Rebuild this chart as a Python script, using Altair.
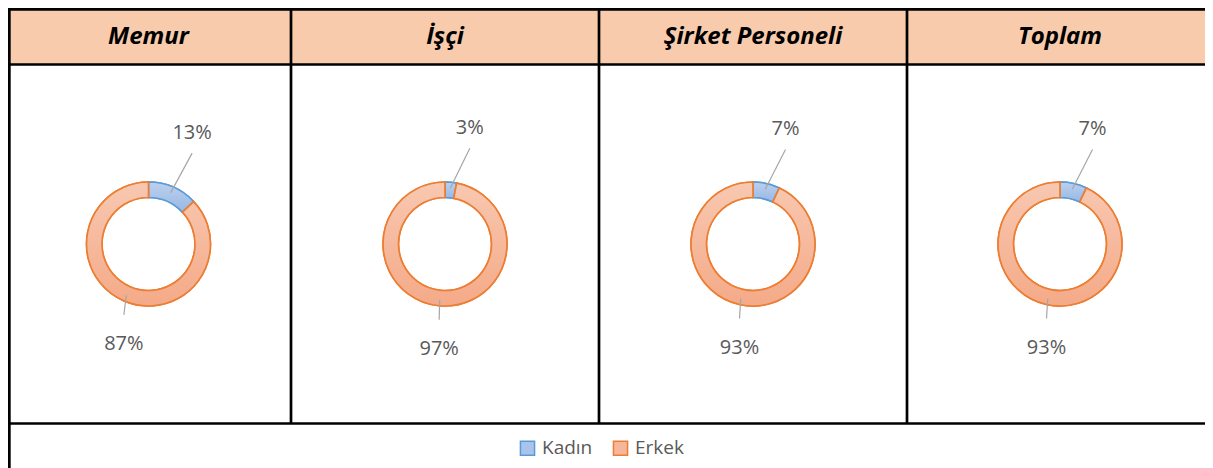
import math
import altair as alt
import pandas as pd

# ---------------- data ----------------
panels = ["Memur", "İşçi", "Şirket Personeli", "Toplam"]
categories = ["Kadın", "Erkek"]
kadin_pct = [13, 3, 7, 7]
erkek_pct = [87, 97, 93, 93]

# ---------------- layout (page pixels) ----------------
PAGE_W, PAGE_H, M = 1213, 468, 8
W, H = PAGE_W - 2 * M, PAGE_H - M
LW = 2.7
col_edges = [M + LW / 2, 291, 599, 907, 1215]
top_y, head_y, body_y = M + LW / 2, 64.5, 423.5
donut_cy = 244
r_out, r_in = 62, 46.5
label_off = {"Kadın": (19, -55), "Erkek": (0, 42)}
leader_end_dy = {"Kadın": 21, "Erkek": -28}
leader_r = 56
fill_cols = {"Kadın": "#A9C4EB", "Erkek": "#F6B699"}
stroke_cols = {"Kadın": "#5B9BD5", "Erkek": "#ED7D31"}
grad = {
    "Kadın": ("#BCD0EE", "#98B8E4"),
    "Erkek": ("#F8C8B1", "#F4AA88"),
}
TEXT = "#595959"

centers = [(6 + 291) / 2, (291 + 599) / 2, (599 + 907) / 2, (907 + 1213) / 2]

rows = []
for i, p in enumerate(panels):
    cx = centers[i]
    vals = [kadin_pct[i], erkek_pct[i]]
    total = sum(vals)
    cum = 0
    for c, v in zip(categories, vals):
        t0 = cum / total
        cum += v
        t1 = cum / total
        a = math.pi * (t0 + t1)
        ox = cx + r_out * math.sin(a)
        oy = donut_cy - r_out * math.cos(a)
        lx = ox + label_off[c][0]
        ly = oy + label_off[c][1]
        rows.append(dict(
            panel=p, category=c, value=v, label=f"{v}%",
            cx=cx, cy=donut_cy, t0=t0, t1=t1,
            lx=lx, ly=ly + 7,
            sx=cx + leader_r * math.sin(a), sy=donut_cy - leader_r * math.cos(a),
            ex=lx, ey=ly + leader_end_dy[c],
        ))
df = pd.DataFrame(rows)

head_df = pd.DataFrame({"panel": panels, "x": centers, "y": [43.5] * len(panels)})
hdr_rect = pd.DataFrame([{"x": M, "x2": PAGE_W, "y": M, "y2": head_y}])
lines = [
    (M, top_y, PAGE_W, top_y),
    (M, head_y, PAGE_W, head_y),
    (M, body_y, PAGE_W, body_y),
    (col_edges[0], M, col_edges[0], PAGE_H + 2),
]
for e in col_edges[1:4]:
    lines.append((e, M, e, body_y))
lines_df = pd.DataFrame(lines, columns=["x", "y", "x2", "y2"])

# scales map page pixels onto the plot area (page has an 8px margin)
xs = alt.Scale(domain=[M, M + W], range=[0, W], nice=False, zero=False)
ys = alt.Scale(domain=[M, M + H], range=[0, H], nice=False, zero=False)
ts = alt.Scale(domain=[0, 1], range=[0, 2 * math.pi])

X = lambda f: alt.X(f, scale=xs, axis=None)
Y = lambda f: alt.Y(f, scale=ys, axis=None)

header_bg = alt.Chart(hdr_rect).mark_rect(fill="#F8CBAD").encode(
    x=X("x:Q"), x2="x2:Q", y=Y("y:Q"), y2="y2:Q"
)
grid = alt.Chart(lines_df).mark_rule(color="#000000", strokeWidth=LW).encode(
    x=X("x:Q"), x2="x2:Q", y=Y("y:Q"), y2="y2:Q"
)
header_txt = alt.Chart(head_df).mark_text(
    font="Open Sans", fontSize=24, fontWeight="bold", fontStyle="italic",
    color="#000000", align="center", baseline="alphabetic"
).encode(x=X("x:Q"), y=Y("y:Q"), text="panel:N")

legend = alt.Legend(
    title=None, orient="none", legendX=520 - M - 2, legendY=440 - M - 1.5, direction="horizontal",
    symbolType="square", symbolSize=200, symbolStrokeWidth=1.5,
    labelFont="Open Sans", labelFontSize=19, labelColor=TEXT, labelOffset=5,
    columnPadding=17, padding=0, symbolOpacity=1,
)
base_arc = alt.Chart(df).mark_arc(radius=r_out, radius2=r_in, strokeWidth=1.5).encode(
    x=X("cx:Q"), y=Y("cy:Q"),
    theta=alt.Theta("t0:Q", scale=ts, stack=False), theta2="t1:Q",
    fill=alt.Fill("category:N", scale=alt.Scale(domain=categories, range=[fill_cols[c] for c in categories]), legend=legend),
    stroke=alt.Stroke("category:N", scale=alt.Scale(domain=categories, range=[stroke_cols[c] for c in categories]), legend=legend),
)

grad_layers = []
for c in categories:
    g = alt.LinearGradient(
        gradient="linear", x1=0, y1=0, x2=0, y2=1,
        stops=[alt.GradientStop(offset=0, color=grad[c][0]), alt.GradientStop(offset=1, color=grad[c][1])],
    )
    grad_layers.append(
        alt.Chart(df).transform_filter(alt.datum.category == c).mark_arc(
            radius=r_out, radius2=r_in, fill=g, stroke=stroke_cols[c], strokeWidth=1.7
        ).encode(
            x=X("cx:Q"), y=Y("cy:Q"),
            theta=alt.Theta("t0:Q", scale=ts, stack=False), theta2="t1:Q",
        )
    )

leaders = alt.Chart(df).mark_rule(color="#A6A6A6", strokeWidth=1.2).encode(
    x=X("sx:Q"), y=Y("sy:Q"), x2="ex:Q", y2="ey:Q"
)
labels = alt.Chart(df).mark_text(
    font="Open Sans", fontSize=20, color=TEXT, align="center", baseline="alphabetic"
).encode(x=X("lx:Q"), y=Y("ly:Q"), text="label:N")

chart = alt.layer(
    header_bg, base_arc, *grad_layers, leaders, labels, grid, header_txt
).properties(
    width=W, height=H,
    autosize=alt.AutoSizeParams(type="none"),
    padding=0,
    background="white",
).configure_view(stroke=None)

chart.save("out.html", embed_options={"renderer": "svg", "actions": False})
